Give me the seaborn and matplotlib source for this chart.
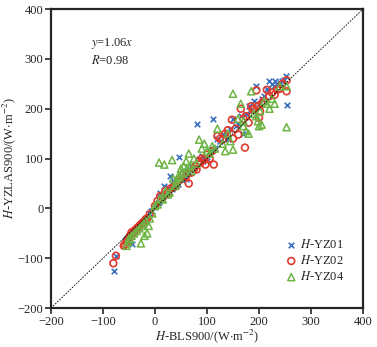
import matplotlib
matplotlib.use("Agg")
import matplotlib.pyplot as plt
import seaborn as sns
import pandas as pd

# ---- data ----
yz01_x = [-78, -75, -55, -50, -45, -40, -35, -30, -20, -12, -8, 5, 10, 18, 25, 28, 35, 47, 55, 60,
          70, 80, 85, 90, 100, 105, 112, 120, 130, 140, 145, 150, 165, 175, 180, 190, 195, 200, 205, 215,
          220, 225, 230, 235, 245, 252, 253, 170, 110, 60,
          -58, -52, -47, -42, -38, -33, -27, -24, -17, -5, 0, 8, 14, 22, 32, 40, 44, 52, 65, 75,
          95, 115, 125, 135, 155, 160, 185, 210, 218, 228, 240, 248]
yz01_y = [-125, -95, -62, -58, -72, -45, -38, -35, -28, -10, -5, 10, 30, 45, 40, 65, 55, 103, 70, 75,
          85, 170, 100, 105, 95, 115, 180, 140, 150, 140, 160, 180, 185, 190, 205, 215, 245, 210, 220, 240,
          255, 250, 255, 250, 255, 265, 207, 150, 120, 60,
          -65, -57, -52, -46, -42, -37, -30, -27, -20, -6, 2, 12, 20, 28, 38, 45, 50, 58, 72, 82,
          100, 122, 135, 145, 165, 170, 195, 225, 235, 245, 252, 258]

yz02_x = [-80, -75, -60, -55, -50, -45, -40, -35, -30, -25, -15, -10, 0, 5, 10, 20, 30, 40, 50, 55,
          65, 75, 80, 85, 90, 97, 105, 113, 120, 125, 135, 140, 148, 150, 160, 165, 170, 173, 180, 185,
          190, 195, 200, 205, 215, 220, 230, 240, 253, 253,
          -58, -52, -48, -42, -37, -32, -28, -22, -18, 15, 25, 35, 45, 60, 70, 78, 88, 95, 100, 110,
          130, 155, 175, 188, 198, 202, 208, 225, 235, 245]
yz02_y = [-110, -95, -75, -68, -60, -48, -45, -40, -35, -30, -20, -12, 5, 15, 25, 35, 40, 45, 60, 70,
          50, 80, 78, 95, 100, 88, 100, 88, 145, 140, 150, 157, 178, 140, 148, 200, 180, 122, 172, 205,
          200, 237, 182, 210, 238, 225, 228, 240, 257, 235,
          -72, -63, -55, -50, -43, -38, -33, -27, -22, 22, 30, 42, 55, 65, 72, 85, 92, 98, 108, 115,
          138, 160, 185, 198, 205, 195, 215, 232, 238, 250]

yz04_x = [-55, -50, -45, -35, -27, -20, -15, -12, -5, 0, 8, 10, 18, 20, 25, 33, 35, 40, 45, 50,
          55, 60, 65, 70, 75, 85, 90, 95, 100, 110, 120, 130, 135, 145, 150, 150, 160, 165, 170, 175,
          180, 185, 190, 200, 205, 210, 220, 230, 240, 253, 253,
          -52, -48, -40, -30, -25, -22, -18, -10, 5, 15, 28, 38, 42, 48, 52, 58, 62, 68, 80, 105,
          115, 140, 170, 195, 198, 202, 215, 225]
yz04_y = [-75, -60, -55, -45, -70, -55, -50, -35, -10, 5, 92, 20, 88, 35, 28, 97, 60, 50, 65, 80,
          85, 95, 110, 75, 100, 138, 120, 130, 115, 125, 160, 130, 115, 135, 118, 230, 180, 210, 165, 155,
          150, 235, 190, 165, 168, 215, 200, 210, 245, 163, 245,
          -68, -62, -50, -40, -35, -30, -25, -20, 8, 18, 32, 45, 55, 62, 70, 72, 80, 85, 90, 110,
          120, 150, 175, 185, 175, 195, 210, 220]

series_names = ["H-YZ01", "H-YZ02", "H-YZ04"]
legend_labels = [r"$\mathit{H}$-YZ01", r"$\mathit{H}$-YZ02", r"$\mathit{H}$-YZ04"]
ticks = [-200, -100, 0, 100, 200, 300, 400]

sns.set_style("ticks")
plt.rcParams["font.family"] = ["Liberation Serif", "DejaVu Serif"]
plt.rcParams["mathtext.fontset"] = "stix"

fig = plt.figure(figsize=(3.77, 3.47), dpi=100)
ax = fig.add_axes([0.135, 0.112, 0.828, 0.862])

colors = ["#3b6fc0", "#e03a2c", "#6cb443"]

df1 = pd.DataFrame({"x": yz01_x, "y": yz01_y})
df2 = pd.DataFrame({"x": yz02_x, "y": yz02_y})
df4 = pd.DataFrame({"x": yz04_x, "y": yz04_y})

sns.scatterplot(data=df1, x="x", y="y", ax=ax, marker="x", color=colors[0], s=16,
                linewidth=1.2, label=legend_labels[0], zorder=3)
sns.scatterplot(data=df2, x="x", y="y", ax=ax, marker="o", facecolor="none", edgecolor=colors[1],
                s=24, linewidth=1.2, label=legend_labels[1], zorder=3)
sns.scatterplot(data=df4, x="x", y="y", ax=ax, marker="^", facecolor="none", edgecolor=colors[2],
                s=26, linewidth=1.1, label=legend_labels[2], zorder=3)

ax.plot([-200, 400], [-200, 400], color="black", linestyle=(0, (2.0, 1.5)), linewidth=0.6, zorder=4)

ax.set_xlim(-200, 400)
ax.set_ylim(-200, 400)
ax.set_xticks(ticks)
ax.set_yticks(ticks)
ax.tick_params(direction="out", length=4, width=1.2, labelsize=9, pad=1.5)
for sp in ax.spines.values():
    sp.set_linewidth(1.6)
    sp.set_visible(True)

ax.set_xlabel(r"$\mathit{H}$-BLS900/(W$\cdot$m$^{-2}$)", fontsize=9, labelpad=0)
ax.set_ylabel(r"$\mathit{H}$-YZLAS900/(W$\cdot$m$^{-2}$)", fontsize=9, labelpad=0)

ax.text(-122, 330, r"$\mathit{y}$=1.06$\mathit{x}$", fontsize=9, va="center")
ax.text(-122, 297, r"$\mathit{R}$=0.98", fontsize=9, va="center")

leg = ax.legend(loc="lower right", bbox_to_anchor=(1.0, 0.02), frameon=False, fontsize=9,
                handletextpad=0.2, labelspacing=0.25, borderaxespad=1.1, handlelength=1.0)

fig.savefig("out.png", dpi=100)
